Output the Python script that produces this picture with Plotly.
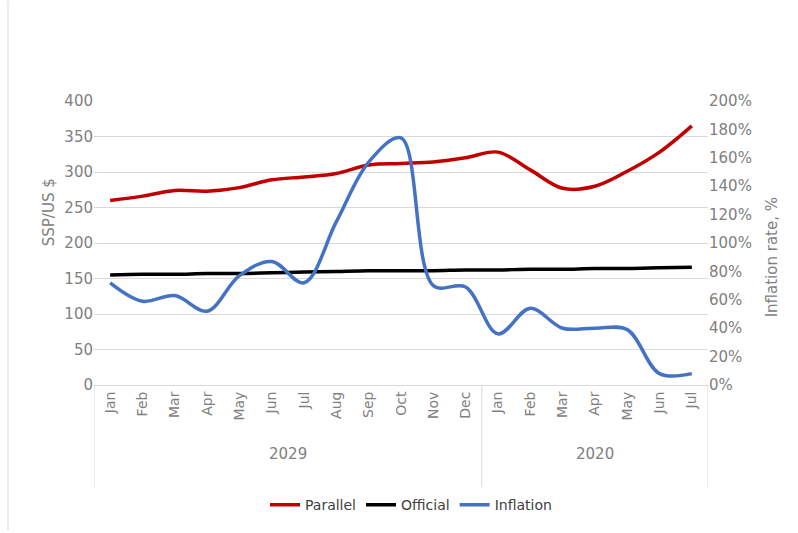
import plotly.graph_objects as go

years = ["2029", "2020"]
year_months = [12, 7]
months = ["Jan", "Feb", "Mar", "Apr", "May", "Jun", "Jul", "Aug", "Sep", "Oct", "Nov", "Dec",
          "Jan", "Feb", "Mar", "Apr", "May", "Jun", "Jul"]
parallel = [260, 266, 274, 273, 278, 289, 293, 298, 310, 312, 314, 320,
            328, 303, 277, 280, 301, 328, 365]
official = [155, 156, 156, 157, 157, 158, 159, 160, 161, 161, 161, 162,
            162, 163, 163, 164, 164, 165, 166]
inflation = [0.72, 0.59, 0.63, 0.52, 0.77, 0.87, 0.72, 1.15, 1.57, 1.74, 0.70, 0.69,
             0.36, 0.54, 0.40, 0.40, 0.39, 0.08, 0.08]

FONT = "DejaVu Sans"
GRAY = "#808080"
LINE = "#d9d9d9"
L, R, T, B = 94, 90, 101, 146
PW, PH = 798 - L - R, 533 - T - B

def px_x(px):
    return (px - L) / PW

def px_y(py):
    return (533 - B - py) / PH

x = list(range(len(months)))

fig = go.Figure()
fig.add_trace(go.Scatter(x=x, y=parallel, name="Parallel", mode="lines",
                         line=dict(color="#C00000", width=3.5, shape="spline")))
fig.add_trace(go.Scatter(x=x, y=official, name="Official", mode="lines",
                         line=dict(color="#000000", width=3.5, shape="spline")))
fig.add_trace(go.Scatter(x=x, y=inflation, name="Inflation", mode="lines",
                         yaxis="y2",
                         line=dict(color="#4472C4", width=3.5, shape="spline")))

# group dividers and year labels
shapes = [dict(type="line", xref="paper", yref="paper", x0=px_x(8), x1=px_x(8),
               y0=px_y(0), y1=px_y(533), line=dict(color=LINE, width=1))]
annotations = []
start = 0
bounds = [-0.5]
for yr, n in zip(years, year_months):
    annotations.append(dict(text=yr, x=start + (n - 1) / 2, xref="x", y=px_y(468), yref="paper",
                            showarrow=False, font=dict(size=15, color=GRAY)))
    start += n
    bounds.append(start - 0.5)
for b in bounds:
    shapes.append(dict(type="line", xref="x", yref="paper", x0=b, x1=b,
                       y0=0, y1=px_y(490), line=dict(color=LINE, width=1)))

annotations += [
    dict(text="SSP/US $", textangle=-90, x=px_x(38), y=px_y(213), xref="paper", yref="paper",
         showarrow=False, font=dict(size=15, color=GRAY)),
    dict(text="Inflation rate, %", textangle=-90, x=px_x(783), y=px_y(196), xref="paper",
         yref="paper", showarrow=False, font=dict(size=15, color=GRAY)),
]

fig.update_layout(
    width=798, height=533,
    margin=dict(l=L, r=R, t=T, b=B),
    paper_bgcolor="white", plot_bgcolor="white",
    font=dict(family=FONT, size=15, color=GRAY),
    showlegend=True,
    legend=dict(orientation="h", x=px_x(411), xanchor="center", y=px_y(508), yanchor="middle",
                font=dict(family=FONT, size=14, color="#404040"), itemwidth=30),
    xaxis=dict(range=[-0.5, len(months) - 0.5], tickmode="array", tickvals=x, ticktext=months,
               tickangle=-90, showgrid=False, zeroline=False,
               showline=True, linecolor=LINE, linewidth=1,
               ticks="", tickfont=dict(size=14, color=GRAY)),
    yaxis=dict(range=[0, 400], dtick=50, showgrid=True, gridcolor=LINE, gridwidth=1,
               zeroline=False, showline=False, ticks="", tickfont=dict(size=15, color=GRAY)),
    yaxis2=dict(range=[0, 2], dtick=0.2, tickformat=".0%", overlaying="y", side="right",
                showgrid=False, zeroline=False, ticks="", tickfont=dict(size=15, color=GRAY)),
    annotations=annotations,
    shapes=shapes,
)

fig.write_html("out.html")
